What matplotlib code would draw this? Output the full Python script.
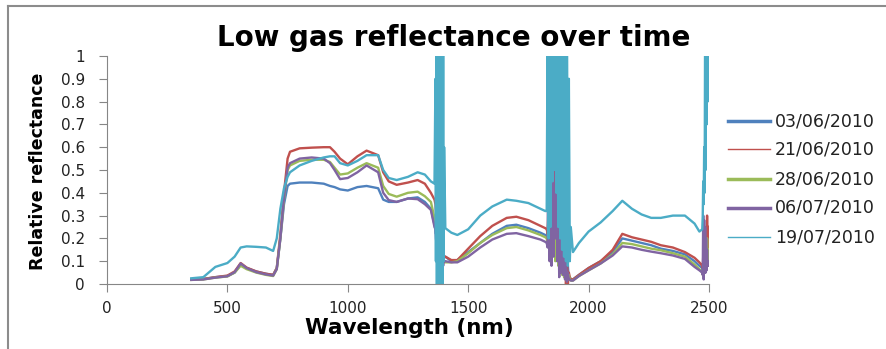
import numpy as np
import matplotlib
matplotlib.use('Agg')
import matplotlib.pyplot as plt
from matplotlib.lines import Line2D

# wavelength grid for the smooth parts of the spectra (nm)
wl_smooth = [350, 400, 450, 500, 530, 555, 580, 620, 660, 690, 705, 720, 735, 750, 760,
             800, 850, 900, 926, 945, 968, 1000, 1040, 1078, 1126, 1147, 1170, 1203, 1250,
             1290, 1320, 1345, 1360,
             1405, 1430, 1455, 1500, 1550, 1600, 1660, 1700, 1750, 1800, 1820,
             1935, 1960, 2000, 2050, 2100, 2140, 2180, 2220, 2260, 2300, 2350, 2400, 2440,
             2460, 2472]
# noisy water absorption bands
wl_band1 = [1364, 1366, 1368, 1370, 1372, 1374, 1376, 1378, 1380, 1382, 1384, 1386, 1388,
            1390, 1392, 1394, 1396, 1398, 1400]
wl_band2 = [1826, 1830, 1834, 1838, 1842, 1846, 1850, 1854, 1858, 1862, 1866, 1870, 1874,
            1878, 1882, 1886, 1890, 1894, 1898, 1902, 1906, 1910, 1914, 1918, 1922, 1926]
wl_band3 = [2474, 2476, 2478, 2480, 2482, 2484, 2486, 2488, 2490, 2492, 2494, 2496, 2498, 2500]

dates = ["03/06/2010", "21/06/2010", "28/06/2010", "06/07/2010", "19/07/2010"]

r_0306 = [.02, .022, .03, .035, .05, .085, .07, .055, .045, .04, .07, .2, .35, .43, .44,
          .445, .445, .44, .43, .425, .415, .41, .425, .43, .42, .37, .36, .36, .375,
          .38, .36, .33, .26,
          .12, .10, .105, .14, .18, .22, .255, .26, .245, .225, .215,
          .02, .04, .07, .10, .14, .20, .19, .18, .17, .155, .145, .13, .10, .08, .07]
r_2106 = [.02, .022, .03, .037, .055, .092, .072, .055, .045, .04, .07, .22, .40, .55, .58,
          .595, .598, .60, .60, .58, .55, .525, .56, .585, .565, .49, .45, .435, .445,
          .456, .44, .40, .37,
          .12, .105, .105, .155, .21, .255, .29, .295, .28, .255, .245,
          .02, .04, .07, .10, .15, .22, .205, .195, .185, .17, .16, .14, .115, .095, .08]
r_2806 = [.018, .02, .028, .033, .05, .08, .065, .05, .04, .035, .065, .2, .37, .50, .52,
          .54, .545, .545, .535, .51, .48, .485, .51, .53, .51, .43, .395, .383, .40,
          .405, .385, .36, .29,
          .095, .095, .10, .135, .18, .215, .245, .25, .235, .215, .205,
          .015, .035, .06, .09, .13, .18, .175, .165, .155, .148, .135, .12, .085, .065, .05]
r_0607 = [.018, .02, .028, .034, .052, .09, .07, .052, .042, .037, .065, .2, .38, .51, .53,
          .55, .555, .55, .53, .50, .46, .465, .49, .52, .49, .40, .368, .36, .375,
          .372, .35, .325, .25,
          .10, .095, .095, .12, .16, .195, .22, .223, .21, .195, .185,
          .015, .035, .06, .09, .125, .165, .16, .15, .142, .135, .125, .11, .075, .06, .05]
r_1907 = [.025, .03, .075, .092, .12, .16, .165, .163, .16, .145, .2, .33, .42, .47, .49,
          .52, .54, .555, .56, .56, .53, .52, .54, .565, .565, .50, .465, .456, .47,
          .49, .48, .45, .44,
          .245, .225, .215, .24, .30, .34, .37, .365, .355, .33, .32,
          .14, .18, .23, .27, .32, .365, .33, .305, .29, .29, .30, .30, .265, .23, .24]

b1_0306 = [.24, .22, .3, .15, .05, .6, .0, .3, .2, .1, .2, .05, .15, .1, .12, .08, .12, .1, .12]
b1_2106 = [.35, .32, .3, 1.2, .0, .25, .05, .3, .2, .1, .2, .08, .15, .12, .1, .14, .1, .12, .12]
b1_2806 = [.28, .25, .22, .5, .05, .3, .02, .2, .15, .08, .15, .05, .12, .1, .08, .1, .09, .1, .1]
b1_0607 = [.24, .2, .18, .45, .02, .7, .0, .25, .15, .05, .2, .04, .13, .1, .06, .1, .08, .1, .1]
b1_1907 = [.9, .1, 1.2, 0, 1.2, .05, 1.2, 0, 1.2, .1, 1.2, 0, 1.2, .05, 1.2, 0, 1.2, .1, .6]

b2_0306 = [.21, .2, .35, .15, .8, .1, .3, .15, 1.2, .2, .45, .1, .3, .08, .25, .05, .2,
           .04, .15, .03, .1, .02, .08, .02, .03, .02]
b2_2106 = [.24, .22, .3, .2, .6, .15, 1.2, .3, .25, .7, .2, .5, .15, .35, .1, .3, .08,
           .4, .05, .3, .0, .1, .0, .05, .03, .02]
b2_2806 = [.2, .18, .4, .12, .3, .1, .6, .15, .35, .1, .3, .45, .08, .2, .05, .15, .04,
           .12, .03, .08, .02, .05, .02, .04, .02, .015]
b2_0607 = [.18, .16, 1.2, .1, .3, .08, 1.2, .12, .4, .2, .9, .1, .35, .03, .5, .05, .3,
           .04, .2, .02, .1, .01, .05, .02, .02, .015]
b2_1907 = [.32, 1.2, .2, 1.2, .25, 1.2, .45, 1.2, .5, 1.2, .4, 1.2, .25, 1.2, .2, 1.2,
           .15, 1.2, .12, 1.2, .1, 1.2, .08, .9, .1, .25]

b3_0306 = [.06, .1, .05, .12, .08, .15, .08, .2, .1, .25, .12, .2, .15, .2]
b3_2106 = [.07, .12, .06, .15, .1, .18, .1, .22, .12, .3, .15, .25, .2, .25]
b3_2806 = [.04, .08, .03, .08, .06, .1, .06, .15, .08, .2, .1, .15, .12, .15]
b3_0607 = [.04, .3, .02, .28, .05, .25, .05, .2, .06, .15, .08, .1, .08, .1]
b3_1907 = [.3, .45, .35, .6, .4, 1.2, .5, 1.2, .7, 1.2, .8, 1.2, .9, 1.2]

colors = ['#4F81BD', '#C0504D', '#9BBB59', '#8064A2', '#4BACC6']
legend_lw = [2.5, 1.0, 2.5, 2.5, 1.0]

series = [(r_0306, b1_0306, b2_0306, b3_0306),
          (r_2106, b1_2106, b2_2106, b3_2106),
          (r_2806, b1_2806, b2_2806, b3_2806),
          (r_0607, b1_0607, b2_0607, b3_0607),
          (r_1907, b1_1907, b2_1907, b3_1907)]

fig = plt.figure(figsize=(8.87, 3.49), dpi=100)
ax = fig.add_axes([107/887, 1-284/349, (709-107)/887, (284-56)/349])

wl_all = np.array(wl_smooth + wl_band1 + wl_band2 + wl_band3)
order = np.argsort(wl_all, kind='stable')
for (sm, b1, b2, b3), col in zip(series, colors):
    vals = np.array(sm + b1 + b2 + b3)
    ax.plot(wl_all[order], vals[order], color=col, lw=1.7)

ax.set_xlim(0, 2500)
ax.set_ylim(0, 1)
ax.set_xticks(range(0, 2501, 500))
ax.set_yticks(np.arange(0, 1.01, 0.1))
ax.set_yticklabels(['0'] + ['%.1f' % v for v in np.arange(0.1, 0.95, 0.1)] + ['1'])
for s in ['top', 'right']:
    ax.spines[s].set_visible(False)
for s in ['left', 'bottom']:
    ax.spines[s].set_color('#868686')
ax.tick_params(colors='#868686', length=6, labelcolor='#222222', labelsize=11)
ax.tick_params(axis='y', pad=10)
ax.tick_params(axis='x', pad=6)

fig.text(0.511, 0.89, "Low gas reflectance over time", ha='center', va='center',
         fontsize=20, fontweight='bold')
fig.text(0.461, 0.06, "Wavelength (nm)", ha='center', va='center',
         fontsize=15.5, fontweight='bold')
fig.text(0.043, 0.51, "Relative reflectance", ha='center', va='center',
         rotation=90, fontsize=12.5, fontweight='bold')

# legend drawn by hand to match row spacing
rows_px = [121, 149, 179, 208, 237]
for d, col, lw, ypx in zip(dates, colors, legend_lw, rows_px):
    y = 1 - ypx/349
    fig.add_artist(Line2D([728/887, 770/887], [y, y], color=col, lw=lw))
    fig.text(775/887, y, d, ha='left', va='center', fontsize=12.5, color='#222222')

# chart frame
fig.add_artist(Line2D([8/887, 1.0], [1-6/349, 1-6/349], color='#8c8c8c', lw=1.5))
fig.add_artist(Line2D([8/887, 8/887], [0.0, 1-6/349], color='#8c8c8c', lw=1.5))

fig.savefig('out.png', dpi=100)
